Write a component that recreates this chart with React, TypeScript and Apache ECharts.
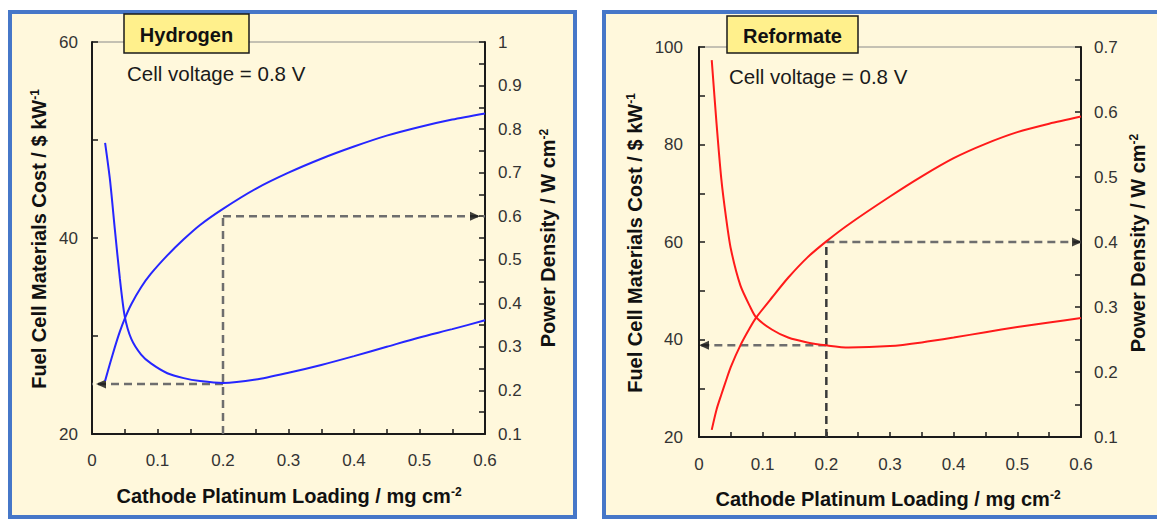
import React, { useEffect, useRef } from "react";
import * as echarts from "echarts";

const FONT = "'Liberation Sans', Arial, Helvetica, sans-serif";

// ---- axis tick labels ----
const loadingLabels = [0, 0.1, 0.2, 0.3, 0.4, 0.5, 0.6];
const loadingTickStep = 0.05;
const hydrogenCostLabels = [20, 40, 60];
const reformateCostLabels = [20, 40, 60, 80, 100];
const costTickStep = 10;
const hydrogenPowerLabels = [0.1, 0.2, 0.3, 0.4, 0.5, 0.6, 0.7, 0.8, 0.9, 1];
const reformatePowerLabels = [0.1, 0.2, 0.3, 0.4, 0.5, 0.6, 0.7];
const powerTickStep = 0.05;

// ---- Hydrogen panel data (loading mg/cm2, cost $/kW, power W/cm2) ----
const hydrogenLoading = [0.02, 0.0275, 0.035, 0.0425, 0.05, 0.06, 0.075, 0.09, 0.115, 0.14, 0.165, 0.2, 0.25, 0.3, 0.35, 0.4, 0.45, 0.5, 0.55, 0.6];
const hydrogenCost = [49.7, 45.9, 40.8, 35.9, 32.0, 29.7, 28.1, 27.2, 26.2, 25.7, 25.4, 25.2, 25.55, 26.25, 27.05, 27.95, 28.9, 29.85, 30.7, 31.6];
const hydrogenPower = [0.222, 0.262, 0.3, 0.335, 0.365, 0.398, 0.437, 0.468, 0.51, 0.547, 0.58, 0.617, 0.663, 0.7, 0.732, 0.76, 0.785, 0.805, 0.822, 0.836];
// guide: [loading, cost, power]
const hydrogenGuide = [0.2, 25.1, 0.6];

// ---- Reformate panel data ----
const reformateLoading = [0.02, 0.0275, 0.035, 0.0425, 0.05, 0.065, 0.08, 0.09, 0.115, 0.14, 0.17, 0.2, 0.235, 0.3, 0.35, 0.4, 0.45, 0.5, 0.55, 0.6];
const reformateCost = [97.3, 84.4, 73.0, 65.0, 58.6, 51.1, 46.8, 44.5, 42.0, 40.4, 39.4, 38.8, 38.35, 38.65, 39.4, 40.4, 41.5, 42.55, 43.5, 44.4];
const reformatePower = [0.111, 0.142, 0.165, 0.187, 0.208, 0.241, 0.268, 0.284, 0.315, 0.345, 0.376, 0.401, 0.427, 0.47, 0.501, 0.529, 0.551, 0.569, 0.582, 0.593];
const reformateGuide = [0.2, 38.8, 0.4];

const AXIS_COLOR = "#1a1a1a";
const LABEL_COLOR = "#333";

const fmt = (labels: number[]) => (v: number) => {
  const hit = labels.find((l) => Math.abs(l - v) < 1e-6);
  return hit === undefined ? "" : String(hit);
};

const first = (a: number[]) => a[0];
const last = (a: number[]) => a[a.length - 1];
const zip = (xs: number[], ys: number[]) => xs.map((x, i) => [x, ys[i]]);

function xAxis(gridIndex: number, margin: number) {
  return {
    gridIndex,
    type: "value",
    min: first(loadingLabels),
    max: last(loadingLabels),
    interval: loadingTickStep,
    axisLine: { show: true, onZero: false, lineStyle: { color: AXIS_COLOR, width: 2 } },
    axisTick: { show: true, inside: true, length: 5, lineStyle: { color: AXIS_COLOR, width: 1.5 } },
    axisLabel: { formatter: fmt(loadingLabels), margin, fontSize: 17, color: LABEL_COLOR, fontFamily: FONT },
    splitLine: { show: false },
  };
}

function yAxis(gridIndex: number, position: string, labels: number[], step: number, margin: number) {
  return {
    gridIndex,
    type: "value",
    position,
    min: first(labels),
    max: last(labels),
    interval: step,
    axisLine: { show: true, onZero: false, lineStyle: { color: AXIS_COLOR, width: 2 } },
    axisTick: { show: true, inside: true, length: 6, lineStyle: { color: AXIS_COLOR, width: 1.5 } },
    axisLabel: { formatter: fmt(labels), margin, fontSize: 17, color: LABEL_COLOR, fontFamily: FONT },
    splitLine: { show: false },
  };
}

function curve(xi: number, yi: number, xs: number[], ys: number[], color: string) {
  return {
    type: "line",
    xAxisIndex: xi,
    yAxisIndex: yi,
    data: zip(xs, ys),
    showSymbol: false,
    symbol: "none",
    smooth: 0.25,
    lineStyle: { color, width: 2 },
    silent: true,
    z: 5,
  };
}

function guides(
  xi: number,
  yiCost: number,
  yiPower: number,
  g: number[],
  powerMin: number,
  vColor: string,
  leftOff: number,
  rightOff: number
) {
  const xMin = first(loadingLabels);
  const xMax = last(loadingLabels);
  const dash = { type: [8, 5], width: 2.5 };
  const common = { type: "line", xAxisIndex: xi, showSymbol: false, symbol: "none", silent: true, z: 3 };
  return [
    { ...common, yAxisIndex: yiPower, data: [[g[0], powerMin], [g[0], g[2]]], lineStyle: { ...dash, color: vColor } },
    { ...common, yAxisIndex: yiPower, data: [[g[0], g[2]], [xMax, g[2]]], lineStyle: { ...dash, color: "#6e6e6e" } },
    { ...common, yAxisIndex: yiCost, data: [[g[0], g[1]], [xMin, g[1]]], lineStyle: { ...dash, color: "#6e6e6e" } },
    {
      type: "scatter",
      xAxisIndex: xi,
      yAxisIndex: yiPower,
      symbol: "triangle",
      symbolSize: [9, 10],
      clip: false,
      silent: true,
      z: 4,
      itemStyle: { color: "#111" },
      data: [{ value: [xMax, g[2]], symbolRotate: -90, symbolOffset: [rightOff, 0] }],
    },
    {
      type: "scatter",
      xAxisIndex: xi,
      yAxisIndex: yiCost,
      symbol: "triangle",
      symbolSize: [9, 10],
      clip: false,
      silent: true,
      z: 4,
      itemStyle: { color: "#111" },
      data: [{ value: [xMin, g[1]], symbolRotate: 90, symbolOffset: [leftOff, 0] }],
    },
  ];
}

function titleText(x: number, y: number, main: string, sup: string, rotate: boolean) {
  return {
    type: "text",
    x,
    y,
    rotation: rotate ? Math.PI / 2 : 0,
    z: 10,
    style: {
      text: "{m|" + main + "}{s|" + sup + "}",
      align: "center",
      verticalAlign: "middle",
      fill: "#111",
      rich: {
        m: { fontSize: 20, fontWeight: "bold", fontFamily: FONT, fill: "#111" },
        s: { fontSize: 12, fontWeight: "bold", fontFamily: FONT, fill: "#111", verticalAlign: "top" },
      },
    },
  };
}

function boxLabel(x: number, y: number, w: number, h: number, text: string) {
  return [
    { type: "rect", z: 10, shape: { x, y, width: w, height: h }, style: { fill: "#FFF08C", stroke: "#1a1a1a", lineWidth: 1.5 } },
    {
      type: "text",
      z: 11,
      x: x + w / 2,
      y: y + h / 2 + 1,
      style: { text, fontSize: 20, fontWeight: "bold", fontFamily: FONT, fill: "#111", align: "center", verticalAlign: "middle" },
    },
  ];
}

function plainText(x: number, y: number, text: string) {
  return {
    type: "text",
    z: 10,
    x,
    y,
    style: { text, fontSize: 20.5, fontFamily: FONT, fill: "#1a1a1a", align: "left", verticalAlign: "middle" },
  };
}

function buildOption() {
  const gridStyle = { show: true, borderColor: "#8a8a8a", borderWidth: 1, backgroundColor: "transparent" };
  return {
    animation: false,
    grid: [
      { left: 92, top: 42, width: 393, height: 392, ...gridStyle },
      { left: 699, top: 47, width: 382, height: 390, ...gridStyle },
    ],
    xAxis: [xAxis(0, 18), xAxis(1, 19)],
    yAxis: [
      yAxis(0, "left", hydrogenCostLabels, costTickStep, 14),
      yAxis(0, "right", hydrogenPowerLabels, powerTickStep, 13),
      yAxis(1, "left", reformateCostLabels, costTickStep, 16),
      yAxis(1, "right", reformatePowerLabels, powerTickStep, 13),
    ],
    series: [
      ...guides(0, 0, 1, hydrogenGuide, first(hydrogenPowerLabels), "#6e6e6e", 9, -10),
      ...guides(1, 2, 3, reformateGuide, first(reformatePowerLabels), "#3a3a3a", 5, -4),
      curve(0, 0, hydrogenLoading, hydrogenCost, "#2626ff"),
      curve(0, 1, hydrogenLoading, hydrogenPower, "#2626ff"),
      curve(1, 2, reformateLoading, reformateCost, "#ff1a1a"),
      curve(1, 3, reformateLoading, reformatePower, "#ff1a1a"),
    ],
    graphic: [
      ...boxLabel(124, 14, 125, 39, "Hydrogen"),
      ...boxLabel(727, 16, 131, 37, "Reformate"),
      plainText(127, 73.5, "Cell voltage = 0.8 V"),
      plainText(729, 76.5, "Cell voltage = 0.8 V"),
      titleText(39, 239, "Fuel Cell Materials Cost / $ kW", "-1", true),
      titleText(548, 238, "Power Density / W cm", "-2", true),
      titleText(289, 496, "Cathode Platinum Loading / mg cm", "-2", false),
      titleText(635, 243, "Fuel Cell Materials Cost / $ kW", "-1", true),
      titleText(1138, 243, "Power Density / W cm", "-2", true),
      titleText(888, 499, "Cathode Platinum Loading / mg cm", "-2", false),
    ],
  };
}

export default function App() {
  const ref = useRef<HTMLDivElement>(null);
  useEffect(() => {
    if (!ref.current) return;
    const chart = echarts.init(ref.current, null, { renderer: "svg" });
    chart.setOption(buildOption() as any);
    return () => chart.dispose();
  }, []);
  const panel = {
    position: "absolute" as const,
    top: 10,
    height: 509,
    boxSizing: "border-box" as const,
    background: "#FFF8DC",
    border: "4px solid #4677C8",
  };
  return (
    <div style={{ position: "absolute", left: 0, top: 0, width: 1157, height: 519, background: "#fff", overflow: "hidden" }}>
      <div style={{ ...panel, left: 8, width: 569 }} />
      <div style={{ ...panel, left: 602, width: 560, borderRight: "none" }} />
      <div ref={ref} style={{ position: "absolute", left: 0, top: 0, width: 1157, height: 519 }} />
    </div>
  );
}
